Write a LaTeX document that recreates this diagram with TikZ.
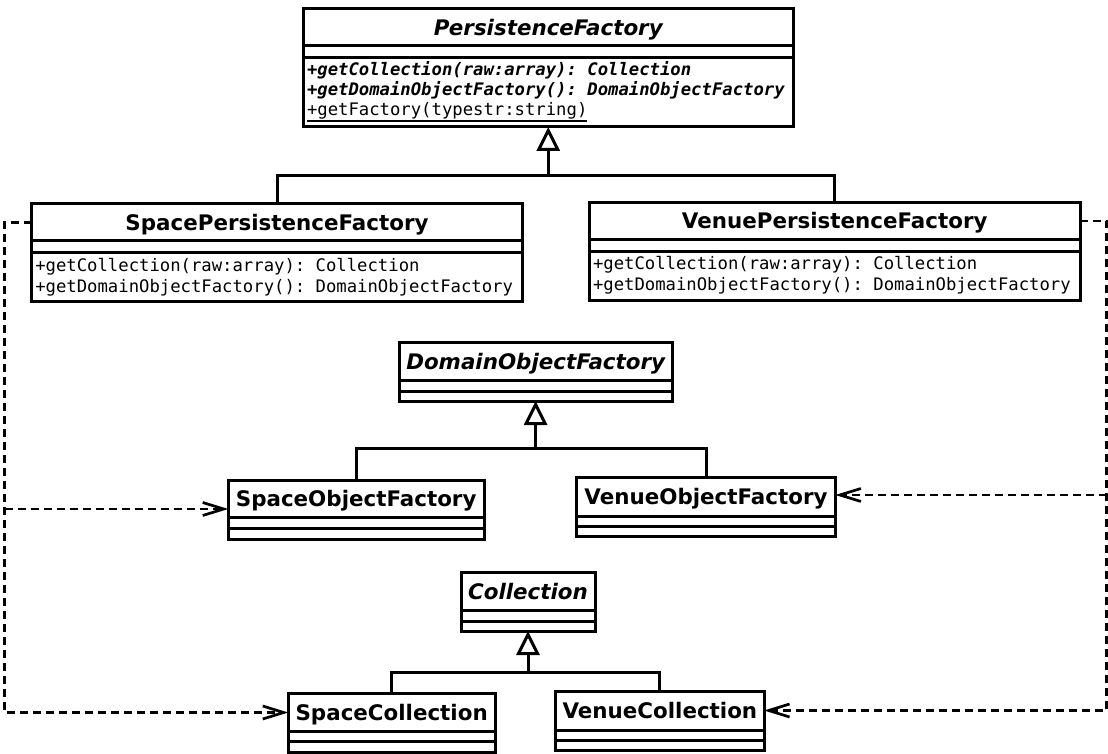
\documentclass[tikz,border=0pt]{standalone}
\usepackage{fontspec}
\setmainfont{DejaVu Sans}
\setmonofont{DejaVu Sans Mono}
\usetikzlibrary{arrows.meta}
\newcommand\umlclass[8]{%
  \node[cls, minimum width={#3-#2}, minimum height={#5-#4}] (#1) at ({(#2+#3)/2},{(#4+#5)/2}) {#8};
  \node[comp, minimum width={#3-#2}, minimum height={#6-#5}] (#1-a) at ({(#2+#3)/2},{(#5+#6)/2}) {};
  \node[comp, minimum width={#3-#2}, minimum height={#7-#6}] (#1-m) at ({(#2+#3)/2},{(#6+#7)/2}) {};
}
\tikzset{
  cls/.style={draw, line width=3pt, inner sep=0pt, outer sep=0pt,
    font=\fontsize{21.4}{24}\selectfont\bfseries, text height=15.6pt, text depth=0pt},
  comp/.style={draw, line width=3pt, inner sep=0pt, outer sep=0pt},
  meth/.style={anchor=base west, inner sep=0pt, outer sep=0pt,
    font=\fontsize{17.25}{20}\selectfont\ttfamily},
  absmeth/.style={meth, font=\fontsize{17.25}{20}\selectfont\ttfamily\bfseries\itshape},
  link/.style={line width=3pt},
  gen/.style={line width=3pt, -{Triangle[open, length=24pt, width=23pt]}},
  dep/.style={line width=2.7pt, dash pattern=on 8pt off 5pt, -{Straight Barb[length=21pt, width=13pt]}}
}
\begin{document}
\begin{tikzpicture}[x=1pt, y=-1pt]
\useasboundingbox (0,0) rectangle (1108,754);
% classes
\umlclass{pf}{303.5}{793}{9}{45.7}{57.3}{127}{\itshape PersistenceFactory}
\umlclass{spf}{31.7}{522.3}{204}{240.7}{252.3}{301.5}{SpacePersistenceFactory}
\umlclass{vpf}{589.5}{1080}{202.5}{239.3}{251.5}{300.5}{VenuePersistenceFactory}
\umlclass{dof}{399}{672.3}{342.7}{380.7}{391}{401}{\itshape DomainObjectFactory}
\umlclass{sof}{228.3}{484}{480}{517.3}{528.3}{539}{SpaceObjectFactory}
\umlclass{vof}{576.7}{835.3}{477.3}{516}{526}{536.7}{VenueObjectFactory}
\umlclass{col}{461}{595}{572.7}{610.7}{621}{631}{\itshape Collection}
\umlclass{sc}{288.3}{495}{693.3}{731.7}{741.7}{752}{SpaceCollection}
\umlclass{vc}{555.7}{764}{691}{730}{740}{750}{VenueCollection}
% operations
\node[absmeth] (pf1) at (307,75.5) {+getCollection(raw:array): Collection};
\node[absmeth] (pf2) at (307,96) {+getDomainObjectFactory(): DomainObjectFactory};
\node[meth] (pf3) at (307,116) {+getFactory(typestr:string)};
\draw[line width=1.5pt] ([yshift=-5pt]pf3.base west) -- ([yshift=-5pt]pf3.base east);
\node[meth] (spf1) at (35.3,271) {+getCollection(raw:array): Collection};
\node[meth] (spf2) at (35.3,292) {+getDomainObjectFactory(): DomainObjectFactory};
\node[meth] (vpf1) at (593,269.5) {+getCollection(raw:array): Collection};
\node[meth] (vpf2) at (593,290.5) {+getDomainObjectFactory(): DomainObjectFactory};
% generalizations
\coordinate (g1) at (548.25,175.7);
\coordinate (g2) at (535.65,448.3);
\coordinate (g3) at (528,672.7);
\draw[link] (spf.north) |- (g1) -| (vpf.north);
\draw[gen] (g1) -- (pf-m.south);
\draw[link] (sof.north) |- (g2) -| (vof.north);
\draw[gen] (g2) -- (dof-m.south);
\draw[link] (sc.north) |- (g3) -| (vc.north);
\draw[gen] (g3) -- (col-m.south);
% dependencies
\coordinate (dl) at (4.5,0);
\coordinate (dr) at (1106.5,0);
\coordinate (dlb) at (4.5,509);
\coordinate (drb) at (1106.5,495);
\draw[dep] (spf.west) -| (dl |- sc.west) -- (sc.west);
\draw[dep] (dlb) -- (sof.west |- dlb);
\draw[dep] (vpf.east) -| (dr |- vc.east) -- (vc.east);
\draw[dep] (drb) -- (vof.east |- drb);
\end{tikzpicture}
\end{document}
